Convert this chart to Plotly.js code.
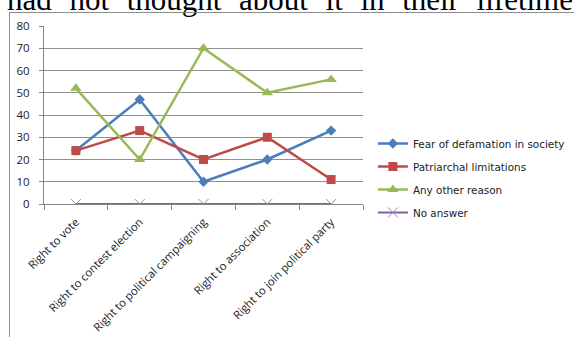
<!DOCTYPE html>
<html>
<head>
<meta charset="utf-8">
<script src="https://cdn.plot.ly/plotly-3.0.1.min.js"></script>
<style>
  html, body { margin: 0; padding: 0; width: 574px; height: 337px; overflow: hidden; background: #fff; }
  #caption {
    position: absolute; left: 7px; top: -16.5px; width: 566px;
    font-family: "Liberation Serif", serif; font-size: 31px; line-height: 31px;
    color: #000; white-space: nowrap; text-align: justify; text-align-last: justify;
  }
  #frame {
    position: absolute; left: 9px; top: 12px; width: 700px; height: 400px;
    border: 1px solid #8c8c8c;
  }
  #chart { position: absolute; left: 0; top: 0; width: 574px; height: 337px; }
</style>
</head>
<body>
<div id="caption">had not thought about it in their lifetime</div>
<div id="frame"></div>
<div id="chart"></div>
<script>
// Rights that were asked about (x categories)
const categories = [
  "Right to vote",
  "Right to contest election",
  "Right to political campaigning",
  "Right to association",
  "Right to join political party"
];

// Reasons given (one series each)
const fearOfDefamation = [24, 47, 10, 20, 33];
const patriarchalLimitations = [24, 33, 20, 30, 11];
const anyOtherReason = [52, 20, 70, 50, 56];
const noAnswer = [0, 0, 0, 0, 0];

const seriesNames = [
  "Fear of defamation in society",
  "Patriarchal limitations",
  "Any other reason",
  "No answer"
];

const yTickValues = [0, 10, 20, 30, 40, 50, 60, 70, 80];

function series(name, values, color, symbol, size, width, group, markerLine) {
  return {
    type: "scatter",
    mode: "lines+markers",
    name: name,
    x: categories,
    y: values,
    legendgroup: group,
    line: { color: color, width: width },
    marker: Object.assign({ color: color, symbol: symbol, size: size }, markerLine || {}),
    hoverinfo: "skip"
  };
}

const traces = [
  series(seriesNames[0], fearOfDefamation, "#4A7EBB", "diamond", 8, 2.5, "g1"),
  series(seriesNames[1], patriarchalLimitations, "#BE4B48", "square", 9, 2.5, "g2"),
  series(seriesNames[2], anyOtherReason, "#98B954", "triangle-up", 10, 2.5, "g3"),
  series(seriesNames[3], noAnswer, "#7D60A0", "x-thin", 10, 2, "g4",
         { line: { color: "#9a86bd", width: 1 } })
];

const layout = {
  width: 574,
  height: 337,
  margin: { l: 44, r: 211, t: 26, b: 133, pad: 0, autoexpand: false },
  paper_bgcolor: "rgba(0,0,0,0)",
  plot_bgcolor: "rgba(0,0,0,0)",
  showlegend: true,
  xaxis: {
    type: "category",
    range: [-0.5, 4.5],
    automargin: false,
    tickangle: -45,
    tickson: "boundaries",
    ticks: "outside",
    ticklen: 5,
    tickcolor: "#868686",
    ticklabelstandoff: 6,
    showgrid: false,
    showline: true,
    linecolor: "#868686",
    linewidth: 1,
    zeroline: false,
    tickfont: { family: "Open Sans, sans-serif", size: 11.3, color: "#222" }
  },
  yaxis: {
    range: [0, 80],
    automargin: false,
    tickvals: yTickValues,
    ticks: "outside",
    ticklen: 4,
    tickcolor: "#868686",
    ticklabelstandoff: 7,
    showgrid: true,
    gridcolor: "#8f8f8f",
    gridwidth: 1,
    showline: true,
    linecolor: "#868686",
    linewidth: 1,
    zeroline: false,
    tickfont: { family: "Open Sans, sans-serif", size: 11.5, color: "#222" }
  },
  legend: {
    x: 1.031,
    xanchor: "left",
    y: 0.146,
    yanchor: "middle",
    traceorder: "grouped",
    tracegroupgap: 4,
    itemwidth: 30,
    bgcolor: "rgba(0,0,0,0)",
    borderwidth: 0,
    font: { family: "DejaVu Sans, sans-serif", size: 10.4, color: "#222" }
  }
};

Plotly.newPlot("chart", traces, layout, { staticPlot: true, displayModeBar: false });
</script>
</body>
</html>
